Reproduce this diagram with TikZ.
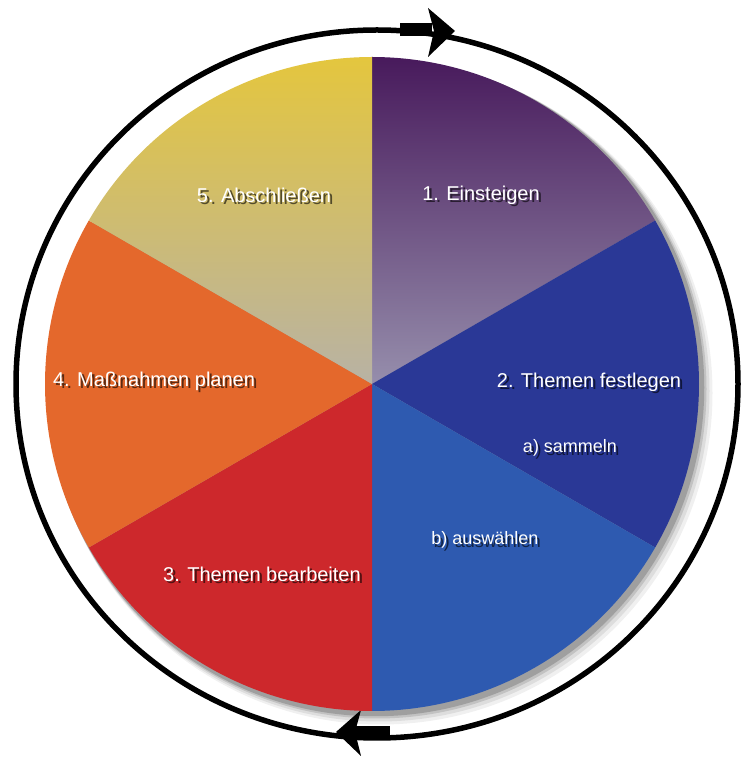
\documentclass[tikz,border=0pt]{standalone}
\usepackage{fontspec}
\setmainfont{Liberation Sans}
\definecolor{purpTop}{RGB}{72,26,92}
\definecolor{purpBot}{RGB}{150,142,172}
\definecolor{yelTop}{RGB}{228,198,62}
\definecolor{yelBot}{RGB}{184,178,164}
\definecolor{darkBlue}{RGB}{42,56,150}
\definecolor{midBlue}{RGB}{46,90,176}
\definecolor{redSeg}{RGB}{205,40,44}
\definecolor{oraSeg}{RGB}{228,104,44}
\tikzset{
  lbl/.style={text=white, inner sep=0pt, font=\fontsize{20}{22}\selectfont},
  sublbl/.style={text=white, inner sep=0pt, font=\fontsize{18}{20}\selectfont},
  shd/.style={text=black, opacity=0.6},
  ring/.style={line width=5.5pt, draw=black},
}
\newcommand\labtext[4]{%
  \node[#1,shd] (#2s) at ([shift={(2.5,-2.5)}]#3) {#4};
  \node[#1] (#2) at (#3) {#4};}
\begin{document}
\begin{tikzpicture}[x=1pt,y=1pt]
\useasboundingbox (0,0) rectangle (744,758);
\fill[white] (0,0) rectangle (744,758);
% outer ring
\coordinate (RC) at (377,374);
\draw[ring] (RC) ellipse[x radius=361, y radius=354];
% top arrow marker
\fill[black] (400,735) rectangle (432,722);
\fill[black] (428,750) -- (455,727) -- (428,701) -- (434,727) -- cycle;
% bottom arrow marker
\fill[black] (390,32) rectangle (354,19);
\fill[black] (361,48) -- (336,26) -- (361,2) -- (355,26) -- cycle;
% pie shadow
\coordinate (C) at (372,374);
\foreach \d/\o in {9/0.06,7/0.08,5/0.12,3.5/0.18}{
  \fill[black,opacity=\o] ([shift={(\d,-\d)}]C) circle[radius=327+\d/2];
}
% wedges
\shade[top color=purpTop, bottom color=purpBot] (C) -- ++(90:327) arc[start angle=90,end angle=30,radius=327] -- cycle;
\fill[darkBlue] (C) -- ++(30:327) arc[start angle=30,end angle=-30,radius=327] -- cycle;
\fill[midBlue] (C) -- ++(-30:327) arc[start angle=-30,end angle=-90,radius=327] -- cycle;
\fill[redSeg] (C) -- ++(-90:327) arc[start angle=-90,end angle=-150,radius=327] -- cycle;
\fill[oraSeg] (C) -- ++(-150:327) arc[start angle=-150,end angle=-210,radius=327] -- cycle;
\shade[top color=yelTop, bottom color=yelBot] (C) -- ++(150:327) arc[start angle=150,end angle=90,radius=327] -- cycle;
% labels
\labtext{lbl}{l5}{264,563}{5. Abschließen}
\labtext{lbl}{l1}{481,563}{1. Einsteigen}
\labtext{lbl}{l2}{589,376}{2. Themen festlegen}
\labtext{sublbl}{l2a}{570,310}{a) sammeln}
\labtext{sublbl}{l2b}{485,218}{b) auswählen}
\labtext{lbl}{l3}{262,184}{3. Themen bearbeiten}
\labtext{lbl}{l4}{154,377}{4. Maßnahmen planen}
\end{tikzpicture}
\end{document}
